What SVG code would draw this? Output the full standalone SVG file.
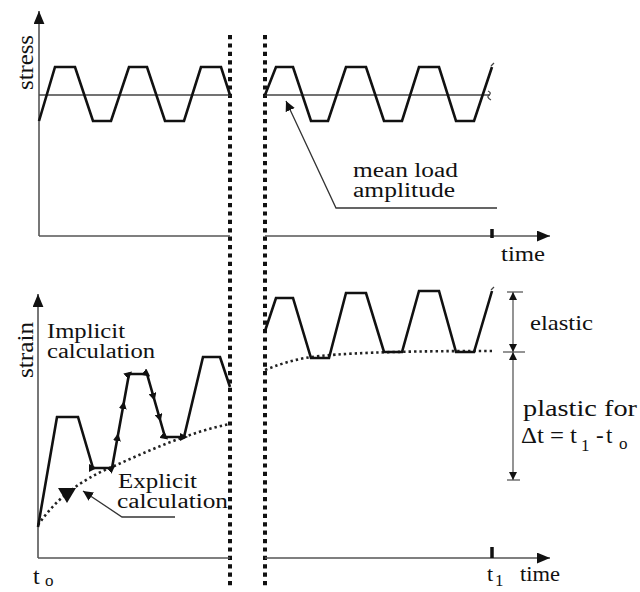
<svg xmlns="http://www.w3.org/2000/svg" width="640" height="592" viewBox="0 0 640 592">
<defs>
<marker id="ah" viewBox="0 0 10 10" refX="10" refY="5" markerWidth="10" markerHeight="10" markerUnits="userSpaceOnUse" orient="auto"><path d="M0,0 L10,5 L0,10 z" fill="#111"/></marker>
<marker id="axh" viewBox="0 0 12 10" refX="12" refY="5" markerWidth="13" markerHeight="11" markerUnits="userSpaceOnUse" orient="auto"><path d="M0,0 L12,5 L0,10 z" fill="#111"/></marker>
<marker id="tri" viewBox="0 0 10 10" refX="5" refY="5" markerWidth="8" markerHeight="8" markerUnits="userSpaceOnUse" orient="auto"><path d="M0,0 L10,5 L0,10 z" fill="#111"/></marker>
<marker id="dh" viewBox="0 0 10 10" refX="10" refY="5" markerWidth="9" markerHeight="8" markerUnits="userSpaceOnUse" orient="auto"><path d="M0,0 L10,5 L0,10 z" fill="#111"/></marker>
</defs>
<style>
.ax{stroke:#555;stroke-width:1.6;fill:none}
.sig{stroke:#111;stroke-width:2.6;fill:none;stroke-linejoin:miter}
.mean{stroke:#444;stroke-width:1.3;fill:none}
.sep{stroke:#111;stroke-width:4;stroke-dasharray:4.2 4.2;fill:none}
.pl{stroke:#222;stroke-width:2.6;stroke-dasharray:2.4 3;fill:none}
.lead{stroke:#333;stroke-width:1.3;fill:none}
.tk{stroke:#111;stroke-width:3.5}
.dim{stroke:#666;stroke-width:1.4;fill:none}
.t{font-family:'Liberation Serif','DejaVu Serif',serif;fill:#111}
</style>
<rect width="640" height="592" fill="#fff"/>

<g id="separators">
<line class="sep" x1="230" y1="35" x2="230" y2="586"/>
<line class="sep" x1="265" y1="35" x2="265" y2="586"/>
</g>

<g id="stress-plot">
<line class="ax" x1="39" y1="236" x2="39" y2="11" marker-end="url(#axh)"/>
<line class="ax" x1="39" y1="236" x2="230" y2="236"/>
<line class="ax" x1="265" y1="236" x2="550" y2="236" marker-end="url(#axh)"/>
<line class="tk" x1="492" y1="229" x2="492" y2="238"/>
<line class="mean" x1="39" y1="95" x2="230" y2="95"/>
<line class="mean" x1="265" y1="95" x2="490" y2="95"/>
<path class="mean" d="M488,91 q4,2 1,4 q-3,2 2,5"/>
<path class="sig" d="M39,121 L55,67 L75,67 L93,121 L111,121 L129,67 L147,67 L165,121 L184,121 L201,67 L221,67 L230,95"/>
<path class="sig" d="M265,95 L276,67 L293,67 L311,121 L328,121 L346,67 L366,67 L384,121 L402,121 L419,67 L439,67 L456,121 L474,121 L492,67"/>
<path class="mean" d="M491,66 l3,-3"/>
<text class="t" font-family="Liberation Serif, serif" transform="translate(33,90) rotate(-90)" font-size="24" textLength="55" lengthAdjust="spacingAndGlyphs">stress</text>
<text class="t" font-family="Liberation Serif, serif" x="501" y="261" font-size="22" textLength="44" lengthAdjust="spacingAndGlyphs">time</text>
</g>

<g id="mean-load-label">
<polyline class="lead" points="497,208 336,208 286,101" marker-end="url(#ah)"/>
<text class="t" font-family="Liberation Serif, serif" x="353" y="177" font-size="20" textLength="105" lengthAdjust="spacingAndGlyphs">mean load</text>
<text class="t" font-family="Liberation Serif, serif" x="353" y="197" font-size="20" textLength="102" lengthAdjust="spacingAndGlyphs">amplitude</text>
</g>

<g id="strain-plot">
<line class="ax" x1="38" y1="558" x2="38" y2="294" marker-end="url(#axh)"/>
<line class="ax" x1="38" y1="558" x2="230" y2="558"/>
<line class="ax" x1="265" y1="558" x2="550" y2="558" marker-end="url(#axh)"/>
<line class="tk" x1="492" y1="547" x2="492" y2="558"/>
<path class="pl" d="M38,525 C55,500 80,480 112,467 C150,450 190,432 230,424"/>
<path class="pl" d="M265,370 C285,362 300,358 320,356 C360,352 420,351 492,351"/>
<path class="sig" d="M38,527 L57,417 L78,417 L93,468 L112,468 L129,374 L147,374 L165,437 L184,437 L203,357 L220,357 L230,387"/>
<path class="sig" d="M265,331 L276,298 L293,298 L311,358 L329,358 L346,293 L366,293 L384,352 L402,352 L419,291 L439,291 L456,352 L474,352 L492,291"/>
<path class="mean" d="M491,290 l3,-3"/>
<path d="M93,468 L112,468 L117.6,437 L123.4,405 L129,374 L147,374 L153.6,397 L159.6,418 L165,437 L184,437" fill="none" stroke="none" marker-start="url(#tri)" marker-mid="url(#tri)" marker-end="url(#tri)"/>
<text class="t" font-family="Liberation Serif, serif" transform="translate(33,378) rotate(-90)" font-size="24" textLength="56" lengthAdjust="spacingAndGlyphs">strain</text>
<text class="t" font-family="Liberation Serif, serif" x="33" y="584" font-size="24">t</text>
<text class="t" font-family="Liberation Serif, serif" x="45" y="586" font-size="17">o</text>
<text class="t" font-family="Liberation Serif, serif" x="487" y="581" font-size="22">t</text>
<text class="t" font-family="Liberation Serif, serif" x="495" y="586" font-size="17">1</text>
<text class="t" font-family="Liberation Serif, serif" x="520" y="581" font-size="22" textLength="40" lengthAdjust="spacingAndGlyphs">time</text>
</g>

<g id="implicit-label">
<text class="t" font-family="Liberation Serif, serif" x="47" y="338" font-size="20" textLength="78" lengthAdjust="spacingAndGlyphs">Implicit</text>
<text class="t" font-family="Liberation Serif, serif" x="47" y="358" font-size="20" textLength="108" lengthAdjust="spacingAndGlyphs">calculation</text>
</g>

<g id="explicit-label">
<path d="M58,488 L76,488 L67,503 z" fill="#111"/>
<polyline class="lead" points="175,517 122,517 83,491" marker-end="url(#ah)"/>
<text class="t" font-family="Liberation Serif, serif" x="118" y="488" font-size="20" textLength="79" lengthAdjust="spacingAndGlyphs">Explicit</text>
<text class="t" font-family="Liberation Serif, serif" x="117" y="508" font-size="20" textLength="111" lengthAdjust="spacingAndGlyphs">calculation</text>
</g>

<g id="dimension">
<line class="dim" x1="513" y1="292" x2="513" y2="480"/>
<line class="dim" x1="507" y1="292" x2="523" y2="292"/>
<line class="dim" x1="503" y1="352" x2="525" y2="352"/>
<line class="dim" x1="507" y1="480" x2="520" y2="480"/>
<line x1="513" y1="305" x2="513" y2="292" stroke="none" marker-end="url(#dh)"/>
<line x1="513" y1="338" x2="513" y2="352" stroke="none" marker-end="url(#dh)"/>
<line x1="513" y1="365" x2="513" y2="352" stroke="none" marker-end="url(#dh)"/>
<line x1="513" y1="466" x2="513" y2="480" stroke="none" marker-end="url(#dh)"/>
<text class="t" font-family="Liberation Serif, serif" x="530" y="330" font-size="22" textLength="63" lengthAdjust="spacingAndGlyphs">elastic</text>
<text class="t" font-family="Liberation Serif, serif" x="523" y="416" font-size="23" textLength="114" lengthAdjust="spacingAndGlyphs">plastic for</text>
<text class="t" font-family="Liberation Serif, serif" x="521" y="443" font-size="23" textLength="56" lengthAdjust="spacingAndGlyphs">Δt = t</text>
<text class="t" font-family="Liberation Serif, serif" x="581" y="451" font-size="17">1</text>
<text class="t" font-family="Liberation Serif, serif" x="596" y="443" font-size="23">-</text>
<text class="t" font-family="Liberation Serif, serif" x="606" y="443" font-size="23">t</text>
<text class="t" font-family="Liberation Serif, serif" x="619" y="449" font-size="17">o</text>
</g>
</svg>
